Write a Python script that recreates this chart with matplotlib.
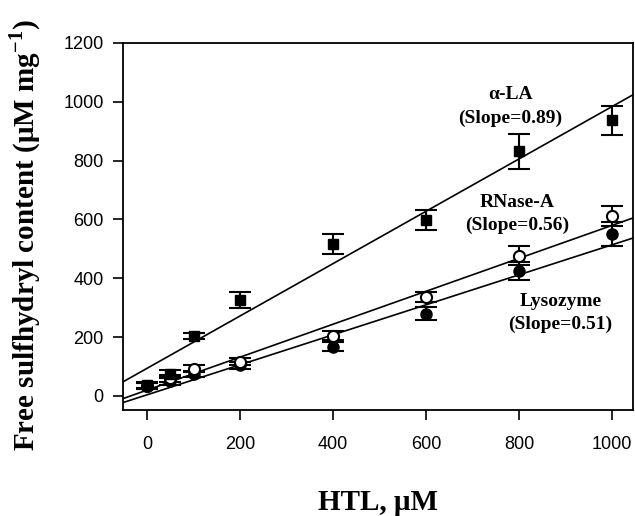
import numpy as np
import matplotlib
matplotlib.use("Agg")
import matplotlib.pyplot as plt

# HTL concentration (uM)
htl = [0, 50, 100, 200, 400, 600, 800, 1000]

# free sulfhydryl content, mean and error, per protein
ala_y = [38, 75, 204, 327, 517, 598, 832, 937]
ala_err = [10, 12, 10, 27, 33, 35, 60, 50]
rnase_y = [35, 60, 92, 116, 205, 335, 477, 612]
rnase_err = [10, 12, 12, 12, 15, 17, 32, 35]
lyso_y = [33, 50, 75, 105, 168, 280, 425, 550]
lyso_err = [10, 12, 10, 12, 15, 22, 30, 40]

# fitted lines (slope, intercept)
ala_fit = (0.89, 94)
rnase_fit = (0.56, 20)
lyso_fit = (0.51, 4)

# annotations: text, x, y (data coords)
notes = [
    ("\u03b1-LA\n(Slope=0.89)", 781, 984),
    ("RNase-A\n(Slope=0.56)", 796, 619),
    ("Lysozyme\n(Slope=0.51)", 889, 281),
]

plt.rcParams["mathtext.fontset"] = "custom"
plt.rcParams["mathtext.rm"] = "Liberation Serif"
plt.rcParams["mathtext.bf"] = "Liberation Serif:bold"

fig = plt.figure(figsize=(6.35, 5.16), dpi=100)
ax = fig.add_axes([123 / 635, 106 / 516, 510 / 635, 367 / 516])

xlim = (-51.6, 1045)
ax.set_xlim(*xlim)
ax.set_ylim(-47.6, 1200)

xs = np.array(xlim)
for slope, icpt in (ala_fit, rnase_fit, lyso_fit):
    ax.plot(xs, slope * xs + icpt, color="black", lw=1.2, zorder=2)

eb = dict(ecolor="black", elinewidth=1.5, capsize=8, capthick=1.5,
          linestyle="none", zorder=3)
ax.errorbar(htl, lyso_y, yerr=lyso_err, marker="o", ms=8,
            mfc="black", mec="black", **eb)
ax.errorbar(htl, rnase_y, yerr=rnase_err, marker="o", ms=8,
            mfc="white", mec="black", mew=1.5, **eb)
ax.errorbar(htl, ala_y, yerr=ala_err, marker="s", ms=6.5,
            mfc="black", mec="black", **eb)

for txt, x, y in notes:
    ax.text(x, y, txt, ha="center", va="center", fontsize=14,
            fontweight="bold", family="Liberation Serif", linespacing=1.45)

ax.set_xticks([0, 200, 400, 600, 800, 1000])
ax.set_yticks([0, 200, 400, 600, 800, 1000, 1200])
for lab in ax.get_xticklabels() + ax.get_yticklabels():
    lab.set_family("Liberation Sans")
    lab.set_fontsize(13)
ax.tick_params(axis="both", direction="out", length=7, width=1.2)
ax.tick_params(axis="x", pad=12)
ax.tick_params(axis="y", pad=7)
for sp in ax.spines.values():
    sp.set_linewidth(1.3)

fig.text(378 / 635, 1 - 502 / 516, "HTL, \u03bcM", ha="center", va="center",
         fontsize=21, fontweight="bold", family="Liberation Serif")
fig.text(25 / 635, 1 - 235 / 516,
         "Free sulfhydryl content (\u03bcM mg$^{\\mathbf{-1}}$)",
         ha="center", va="center", rotation=90, fontsize=21,
         fontweight="bold", family="Liberation Serif")

fig.savefig("out.png", dpi=100)
